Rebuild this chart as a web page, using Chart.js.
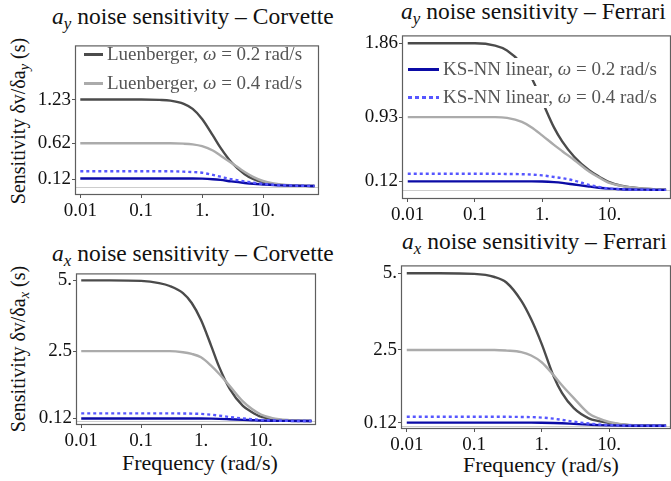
<!DOCTYPE html>
<html>
<head>
<meta charset="utf-8">
<script src="https://cdn.jsdelivr.net/npm/chart.js@4.4.1/dist/chart.umd.min.js"></script>
<style>
  html, body { margin: 0; padding: 0; background: #fff; }
  #page { position: relative; width: 671px; height: 481px; overflow: hidden; background: #fff;
          font-family: "Liberation Serif", "DejaVu Serif", serif; color: #111; }
  .box { position: absolute; }
  .txt { position: absolute; white-space: nowrap; line-height: 1; }
  .title { font-size: 23.5px; }
  .ytitle { font-size: 20px; transform: translate(-50%, -50%) rotate(-90deg); transform-origin: center; }
  .xtitle { font-size: 22px; }
  .leg { position: absolute; white-space: nowrap; font-size: 19px; color: #555; line-height: 22px; }
  .leg.bg { background: #fff; }
  .sw { display: inline-block; vertical-align: middle; height: 3px; margin-right: 4px; position: relative; top: -1px; }
  sub { font-size: 0.72em; vertical-align: -0.3em; line-height: 0; }
</style>
</head>
<body>
<div id="page">
  <div class="txt title" style="left:52px; top:5px;"><i>a<sub>y</sub></i> noise sensitivity – Corvette</div>
  <div class="txt title" style="left:401px; top:0px;"><i>a<sub>y</sub></i> noise sensitivity – Ferrari</div>
  <div class="txt title" style="left:52px; top:242px;"><i>a<sub>x</sub></i> noise sensitivity – Corvette</div>
  <div class="txt title" style="left:402px; top:230px;"><i>a<sub>x</sub></i> noise sensitivity – Ferrari</div>

  <div class="txt ytitle" style="left:18px; top:121px;">Sensitivity δv/δa<sub><i>y</i></sub> (s)</div>
  <div class="txt ytitle" style="left:18px; top:349px;">Sensitivity δv/δa<sub><i>x</i></sub> (s)</div>

  <div class="txt xtitle" style="left:122px; top:452px;">Frequency (rad/s)</div>
  <div class="txt xtitle" style="left:463px; top:454px;">Frequency (rad/s)</div>

  <div class="box" id="p0"><canvas id="c0"></canvas></div>
  <div class="box" id="p1"><canvas id="c1"></canvas></div>
  <div class="box" id="p2"><canvas id="c2"></canvas></div>
  <div class="box" id="p3"><canvas id="c3"></canvas></div>

  <div class="leg" style="left:84px; top:43px;"><span class="sw" style="width:19px; background:#4b4b4b;"></span>Luenberger, <i>ω</i> = 0.2 rad/s</div>
  <div class="leg" style="left:84px; top:72px;"><span class="sw" style="width:19px; background:#ababab;"></span>Luenberger, <i>ω</i> = 0.4 rad/s</div>
  <div class="leg bg" style="left:408px; top:58px; padding-right:4px;"><span class="sw" style="width:31px; background:#0b0ba6;"></span>KS-NN linear, <i>ω</i> = 0.2 rad/s</div>
  <div class="leg bg" style="left:408px; top:86px; padding-right:4px;"><span class="sw" style="width:31px; background:repeating-linear-gradient(to right, #5656ff 0 4px, transparent 4px 7px);"></span>KS-NN linear, <i>ω</i> = 0.4 rad/s</div>
</div>

<script>
// frecuencias (rad/s) usadas para leer las curvas
const freq = [0.01, 0.03, 0.1, 0.2, 0.3, 0.5, 0.7, 1, 1.5, 2, 3, 5, 7, 10, 15, 20, 30, 50, 70];

// a_y - Corvette
const corvAyLu02 = [1.23, 1.23, 1.23, 1.225, 1.215, 1.17, 1.10, 0.96, 0.73, 0.56, 0.36, 0.19, 0.12, 0.075, 0.05, 0.04, 0.032, 0.027, 0.025];
const corvAyLu04 = [0.62, 0.62, 0.62, 0.62, 0.62, 0.615, 0.605, 0.58, 0.52, 0.45, 0.35, 0.22, 0.15, 0.095, 0.06, 0.045, 0.035, 0.028, 0.025];
const corvAyKs02 = [0.13, 0.13, 0.13, 0.13, 0.13, 0.13, 0.13, 0.128, 0.12, 0.11, 0.09, 0.068, 0.056, 0.047, 0.038, 0.034, 0.03, 0.027, 0.026];
const corvAyKs04 = [0.23, 0.23, 0.23, 0.23, 0.23, 0.225, 0.22, 0.21, 0.18, 0.155, 0.12, 0.09, 0.07, 0.055, 0.042, 0.036, 0.031, 0.028, 0.026];

// a_y - Ferrari
const ferrAyLu02 = [1.86, 1.86, 1.86, 1.83, 1.77, 1.6, 1.42, 1.13, 0.8, 0.62, 0.43, 0.26, 0.18, 0.11, 0.065, 0.045, 0.03, 0.02, 0.015];
const ferrAyLu04 = [0.93, 0.93, 0.93, 0.93, 0.92, 0.87, 0.8, 0.7, 0.58, 0.5, 0.39, 0.245, 0.17, 0.1, 0.062, 0.045, 0.03, 0.02, 0.015];
const ferrAyKs02 = [0.12, 0.12, 0.12, 0.12, 0.12, 0.12, 0.12, 0.118, 0.11, 0.1, 0.08, 0.055, 0.04, 0.028, 0.02, 0.017, 0.015, 0.013, 0.012];
const ferrAyKs04 = [0.216, 0.216, 0.216, 0.215, 0.213, 0.21, 0.205, 0.195, 0.175, 0.16, 0.13, 0.075, 0.05, 0.03, 0.02, 0.017, 0.015, 0.013, 0.012];

// a_x - Corvette
const corvAxLu02 = [5.0, 5.0, 4.98, 4.9, 4.8, 4.55, 4.2, 3.6, 2.65, 1.95, 1.17, 0.56, 0.35, 0.18, 0.1, 0.07, 0.05, 0.035, 0.03];
const corvAxLu04 = [2.5, 2.5, 2.5, 2.5, 2.5, 2.46, 2.4, 2.28, 1.97, 1.7, 1.27, 0.72, 0.46, 0.26, 0.14, 0.09, 0.06, 0.04, 0.035];
const corvAxKs02 = [0.12, 0.12, 0.12, 0.12, 0.12, 0.12, 0.12, 0.118, 0.112, 0.105, 0.09, 0.07, 0.058, 0.045, 0.038, 0.035, 0.032, 0.03, 0.03];
const corvAxKs04 = [0.3, 0.3, 0.3, 0.3, 0.3, 0.295, 0.29, 0.28, 0.25, 0.22, 0.17, 0.12, 0.09, 0.065, 0.05, 0.04, 0.035, 0.03, 0.03];

// a_x - Ferrari
const ferrAxLu02 = [5.0, 5.0, 4.98, 4.88, 4.7, 4.1, 3.5, 2.7, 1.65, 1.1, 0.6, 0.27, 0.18, 0.12, 0.07, 0.05, 0.035, 0.03, 0.03];
const ferrAxLu04 = [2.5, 2.5, 2.5, 2.5, 2.48, 2.43, 2.32, 2.1, 1.68, 1.35, 0.93, 0.43, 0.27, 0.15, 0.08, 0.055, 0.04, 0.03, 0.03];
const ferrAxKs02 = [0.13, 0.13, 0.13, 0.13, 0.13, 0.13, 0.13, 0.127, 0.12, 0.11, 0.09, 0.065, 0.05, 0.04, 0.033, 0.03, 0.03, 0.03, 0.03];
const ferrAxKs04 = [0.32, 0.32, 0.32, 0.32, 0.32, 0.315, 0.31, 0.295, 0.26, 0.22, 0.16, 0.1, 0.07, 0.05, 0.04, 0.035, 0.032, 0.03, 0.03];

// ticks
const xTicks = [0.01, 0.1, 1, 10];
const xTickLabels = ['0.01', '0.1', '1.', '10.'];
const ayCorvTicks = [0.12, 0.62, 1.23];
const ayFerrTicks = [0.12, 0.93, 1.86];
const axTicks = [0.12, 2.5, 5];
const ayCorvLabels = ['0.12', '0.62', '1.23'];
const ayFerrLabels = ['0.12', '0.93', '1.86'];
const axLabels = ['0.12', '2.5', '5.'];

// paneles: posicion del marco (px) y rango de y
const panels = [
  { frame: [76, 44, 318, 194], ymin: -0.086, ymax: 1.97, series: [corvAyLu02, corvAyLu04, corvAyKs02, corvAyKs04], ticks: ayCorvTicks, labels: ayCorvLabels },
  { frame: [403, 34, 670, 198], ymin: -0.09, ymax: 1.947, series: [ferrAyLu02, ferrAyLu04, ferrAyKs02, ferrAyKs04], ticks: ayFerrTicks, labels: ayFerrLabels },
  { frame: [77, 272, 315, 424], ymin: -0.077, ymax: 5.21, series: [corvAxLu02, corvAxLu04, corvAxKs02, corvAxKs04], ticks: axTicks, labels: axLabels },
  { frame: [402, 264, 670, 428], ymin: -0.045, ymax: 5.225, series: [ferrAxLu02, ferrAxLu04, ferrAxKs02, ferrAxKs04], ticks: axTicks, labels: axLabels }
];

const lineColors = ['#4b4b4b', '#ababab', '#0b0ba6', '#5656ff'];
const padL = 70, padT = 10, padR = 10, padB = 32;

// marco completo alrededor del area del grafico
const framePlugin = {
  id: 'frame',
  afterDraw(chart) {
    const a = chart.chartArea;
    const ctx = chart.ctx;
    ctx.save();
    ctx.strokeStyle = '#5e5e5e';
    ctx.lineWidth = 1.2;
    ctx.strokeRect(a.left - 0.5, a.top - 0.5, a.right - a.left + 1, a.bottom - a.top + 1);
    ctx.restore();
  }
};

panels.forEach(function(p, i) {
  const [l, t, r, b] = p.frame;
  const w = (r - l) + padL + padR;
  const h = (b - t) + padT + padB;
  const box = document.getElementById('p' + i);
  box.style.left = (l - padL) + 'px';
  box.style.top = (t - padT) + 'px';
  box.style.width = w + 'px';
  box.style.height = h + 'px';
  const canvas = document.getElementById('c' + i);
  canvas.width = w;
  canvas.height = h;

  const datasets = p.series.map(function(vals, k) {
    return {
      data: freq.map((f, j) => ({ x: f, y: vals[j] })),
      borderColor: lineColors[k],
      borderWidth: 2.4,
      borderDash: k === 3 ? [3, 3] : [],
      pointRadius: 0,
      cubicInterpolationMode: 'monotone',
      order: 4 - k
    };
  });

  new Chart(canvas.getContext('2d'), {
    type: 'line',
    data: { datasets: datasets },
    plugins: [framePlugin],
    options: {
      responsive: false,
      animation: false,
      layout: { padding: { top: padT, right: padR, left: 0, bottom: 0 } },
      plugins: { legend: { display: false }, tooltip: { enabled: false } },
      scales: {
        x: {
          type: 'logarithmic',
          min: 0.0085,
          max: 80,
          afterBuildTicks: function(axis) { axis.ticks = xTicks.map(v => ({ value: v })); },
          afterFit: function(axis) { axis.height = padB; },
          border: { display: false },
          grid: { drawOnChartArea: false, drawTicks: true, tickLength: 4, tickColor: '#555' },
          ticks: {
            autoSkip: false, maxRotation: 0, padding: 2, color: '#111',
            font: { family: 'Liberation Serif', size: 19 },
            callback: function(v, idx) { return xTickLabels[idx]; }
          }
        },
        y: {
          type: 'linear',
          min: p.ymin,
          max: p.ymax,
          afterBuildTicks: function(axis) { axis.ticks = [0].concat(p.ticks).map(v => ({ value: v })); },
          afterFit: function(axis) { axis.width = padL; },
          border: { display: false },
          grid: {
            drawTicks: true, tickLength: 4,
            color: c => (c.tick && c.tick.value === 0) ? '#cdcdcd' : 'rgba(0,0,0,0)',
            tickColor: c => (c.tick && c.tick.value === 0) ? 'rgba(0,0,0,0)' : '#555'
          },
          ticks: {
            autoSkip: false, padding: 1, color: '#111',
            font: { family: 'Liberation Serif', size: 19 },
            callback: function(v, idx) { return idx === 0 ? '' : p.labels[idx - 1]; }
          }
        }
      }
    }
  });
});
</script>
</body>
</html>
